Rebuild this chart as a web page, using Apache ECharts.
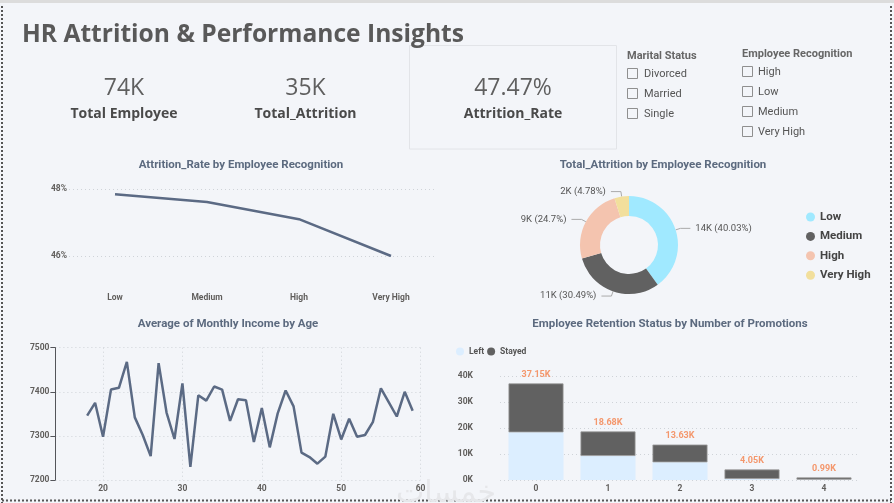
<!DOCTYPE html>
<html>
<head>
<meta charset="utf-8">
<script src="https://cdn.jsdelivr.net/npm/echarts@6/dist/echarts.min.js"></script>
<style>
html, body { margin: 0; padding: 0; background: #f3f5f9; }
#main { width: 894px; height: 503px; }
</style>
</head>
<body>
<div id="main"></div>
<script>
// --- data ---
var recognition = ['Low', 'Medium', 'High', 'Very High']
var attritionRate = [47.84, 47.61, 47.10, 46.00]          // %
var attritionCount = [14158, 10784, 8736, 1691]            // people who left
var recognitionColors = ['#A0E9FF', '#616161', '#F4C4AF', '#F2DF9C']

var ages = [18, 19, 20, 21, 22, 23, 24, 25, 26, 27, 28, 29, 30, 31, 32, 33, 34, 35, 36, 37, 38,
  39, 40, 41, 42, 43, 44, 45, 46, 47, 48, 49, 50, 51, 52, 53, 54, 55, 56, 57, 58, 59]
var monthlyIncome = [7346, 7375, 7298, 7405, 7409, 7468, 7342, 7302, 7254, 7465, 7353, 7293, 7419, 7230,
  7392, 7380, 7412, 7405, 7334, 7383, 7381, 7286, 7363, 7274, 7351, 7403, 7367, 7262, 7252, 7237,
  7253, 7350, 7292, 7339, 7298, 7302, 7332, 7408, 7376, 7344, 7400, 7357]

var promotions = ['0', '1', '2', '3', '4']
var leftCount = [18330, 9230, 6800, 400, 100]
var stayedCount = [18820, 9450, 6830, 3650, 890]

var kpiValues = ['74K', '35K', '47.47%']
var kpiNames = ['Total Employee', 'Total_Attrition', 'Attrition_Rate']
var maritalStatus = ['Divorced', 'Married', 'Single']
var recognitionSlicer = ['High', 'Low', 'Medium', 'Very High']

// --- styles ---
var chartFont = 'Roboto'
var tickColor = '#605E5C'
var titleColor = '#5C6A7F'
var lineColor = '#5B6A84'
var gridLine = { show: true, lineStyle: { color: '#cfd3d8', type: [1, 3], width: 1 } }

var chart = echarts.init(document.getElementById('main'), null, { renderer: 'canvas' })

function txt(text, x, y, font, color, align) {
  return {
    type: 'text', silent: true,
    style: { text: text, x: x, y: y, font: font, fill: color, textAlign: align || 'left', textVerticalAlign: 'middle' }
  }
}

var graphics = [
  // frame
  { type: 'line', shape: { x1: 0, y1: 1.5, x2: 894, y2: 1.5 }, style: { stroke: '#dcdcdc', lineWidth: 3 } },
  { type: 'line', shape: { x1: 2, y1: 6, x2: 2, y2: 503 }, style: { stroke: '#555', lineWidth: 2, lineDash: [2, 2] } },
  { type: 'line', shape: { x1: 891, y1: 6, x2: 891, y2: 503 }, style: { stroke: '#555', lineWidth: 2, lineDash: [2, 2] } },
  { type: 'line', shape: { x1: 2, y1: 500.5, x2: 891, y2: 500.5 }, style: { stroke: '#555', lineWidth: 2, lineDash: [2, 2] } },
  { type: 'rect', shape: { x: 409.5, y: 45.5, width: 207, height: 103.5 }, style: { fill: 'none', stroke: '#e2e4e8', lineWidth: 1 } },
  txt('HR Attrition & Performance Insights', 22, 35, 'bold 24.6px "Open Sans"', '#595959'),
  txt('Attrition_Rate by Employee Recognition', 241, 165, 'bold 11.5px ' + chartFont, titleColor, 'center'),
  txt('Total_Attrition by Employee Recognition', 663, 165, 'bold 11.5px ' + chartFont, titleColor, 'center'),
  txt('Average of Monthly Income by Age', 228, 324, 'bold 11.5px ' + chartFont, titleColor, 'center'),
  txt('Employee Retention Status by Number of Promotions', 670, 324, 'bold 11.5px ' + chartFont, titleColor, 'center'),
  txt('Marital Status', 627, 56, 'bold 11px ' + chartFont, '#666'),
  txt('Employee Recognition', 742, 54, 'bold 11px ' + chartFont, '#666'),
  txt('خمسات', 446, 494, '30px "DejaVu Sans"', '#e6e7ea', 'center')
]

var kpiX = [124, 305.5, 513]
kpiValues.forEach(function (v, i) {
  graphics.push(txt(v, kpiX[i], 88, '23px "Open Sans"', '#5f5f5f', 'center'))
  graphics.push(txt(kpiNames[i], kpiX[i], 114, 'bold 14px "Open Sans"', '#4a4a4a', 'center'))
})

maritalStatus.forEach(function (s, i) {
  var y = 74 + i * 20
  graphics.push({ type: 'rect', shape: { x: 627.5, y: y - 5.5, width: 10, height: 10 }, style: { fill: 'none', stroke: '#8f8f8f', lineWidth: 1 } })
  graphics.push(txt(s, 644, y, '11px ' + chartFont, '#555'))
})
recognitionSlicer.forEach(function (s, i) {
  var y = 72 + i * 20
  graphics.push({ type: 'rect', shape: { x: 742.5, y: y - 5.5, width: 10, height: 10 }, style: { fill: 'none', stroke: '#8f8f8f', lineWidth: 1 } })
  graphics.push(txt(s, 758, y, '11px ' + chartFont, '#555'))
})

var tickLabel = { color: tickColor, fontFamily: chartFont, fontSize: 8.5, fontWeight: 'bold' }

var option = {
  backgroundColor: '#f3f5f9',
  animation: false,
  graphic: graphics,
  legend: [
    {
      data: recognition, orient: 'vertical', left: 806, top: 211,
      icon: 'circle', itemWidth: 9, itemHeight: 9, itemGap: 7.4, padding: 0,
      itemStyle: { borderWidth: 0 },
      textStyle: { color: '#444', fontFamily: chartFont, fontSize: 11.5, fontWeight: 'bold', lineHeight: 12 }
    },
    {
      data: ['Left', 'Stayed'], left: 456, top: 347, icon: 'circle',
      itemWidth: 8, itemHeight: 8, itemGap: 3, padding: 0,
      itemStyle: { borderWidth: 0 },
      textStyle: { color: '#555', fontFamily: chartFont, fontSize: 8.5, fontWeight: 'bold' }
    }
  ],
  grid: [
    { left: 69, top: 189, width: 368, height: 67 },
    { left: 55.4, top: 347.7, width: 365.2, height: 132.3 },
    { left: 500, top: 376, width: 360, height: 104 }
  ],
  xAxis: [
    {
      gridIndex: 0, type: 'category', data: recognition,
      axisLine: { show: false }, axisTick: { show: false },
      axisLabel: Object.assign({ margin: 37 }, tickLabel)
    },
    {
      gridIndex: 1, type: 'value', min: 14, max: 60,
      axisLine: { show: false }, axisTick: { show: false },
      splitLine: gridLine,
      axisLabel: Object.assign({ margin: 4, formatter: function (v) { return v % 10 === 0 ? String(v) : '' } }, tickLabel)
    },
    {
      gridIndex: 2, type: 'category', data: promotions,
      axisLine: { show: false }, axisTick: { show: false },
      axisLabel: Object.assign({ margin: 4 }, tickLabel)
    }
  ],
  yAxis: [
    {
      gridIndex: 0, type: 'value', min: 46, max: 48, interval: 2,
      splitLine: gridLine,
      axisLabel: Object.assign({ margin: 2, formatter: '{value}%' }, tickLabel)
    },
    {
      gridIndex: 1, type: 'value', min: 7200, max: 7500, interval: 100,
      splitLine: gridLine,
      axisLabel: Object.assign({ margin: 6, formatter: function (v) { return String(v) } }, tickLabel)
    },
    {
      gridIndex: 2, type: 'value', min: 0, max: 40000, interval: 10000,
      splitLine: gridLine,
      axisLabel: Object.assign({ margin: 27, formatter: function (v) { return v / 1000 + 'K' } }, tickLabel)
    }
  ],
  series: [
    {
      type: 'line', xAxisIndex: 0, yAxisIndex: 0, data: attritionRate,
      symbol: 'none', lineStyle: { color: lineColor, width: 2.5 }
    },
    {
      type: 'pie', center: [629, 245], radius: [29, 49], startAngle: 90,
      data: recognition.map(function (r, i) {
        return { name: r, value: attritionCount[i], itemStyle: { color: recognitionColors[i] } }
      }),
      label: {
        formatter: function (p) { return Math.round(p.value / 1000) + 'K (' + p.percent + '%)' },
        color: '#555', fontFamily: chartFont, fontSize: 9.5
      },
      labelLine: { length: 5, length2: 10, lineStyle: { color: '#aaa', width: 1 } }
    },
    {
      type: 'line', xAxisIndex: 1, yAxisIndex: 1,
      data: ages.map(function (a, i) { return [a, monthlyIncome[i]] }),
      symbol: 'none', lineStyle: { color: lineColor, width: 2.5 }
    },
    {
      name: 'Left', type: 'bar', xAxisIndex: 2, yAxisIndex: 2, stack: 'promo',
      data: leftCount, barWidth: 55, itemStyle: { color: '#DCEEFF' }
    },
    {
      name: 'Stayed', type: 'bar', xAxisIndex: 2, yAxisIndex: 2, stack: 'promo',
      data: stayedCount, barWidth: 55,
      itemStyle: { color: '#616161', borderColor: '#9a9a9a', borderWidth: 0.8 },
      label: {
        show: true, position: 'top', distance: 4,
        color: '#F4976C', fontFamily: chartFont, fontSize: 9, fontWeight: 'bold',
        formatter: function (p) {
          return ((leftCount[p.dataIndex] + stayedCount[p.dataIndex]) / 1000).toFixed(2) + 'K'
        }
      }
    }
  ]
}

chart.setOption(option)
</script>
</body>
</html>
